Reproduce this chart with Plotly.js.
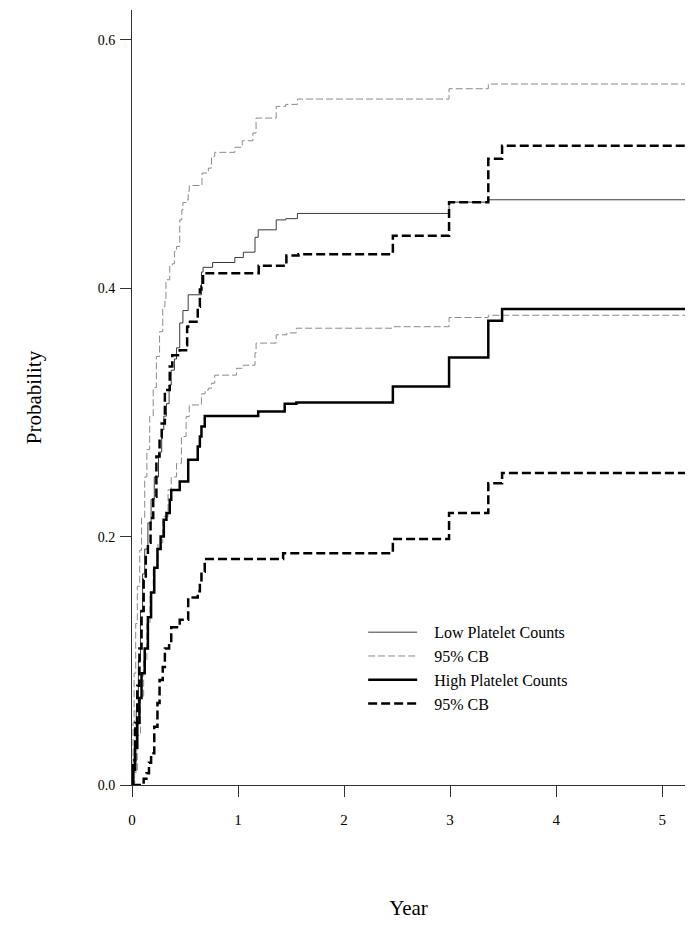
<!DOCTYPE html>
<html>
<head>
<meta charset="utf-8">
<script src="https://cdn.plot.ly/plotly-3.0.1.min.js"></script>
<style>
html,body{margin:0;padding:0;background:#fff;}
#chart{width:700px;height:932px;}
</style>
</head>
<body>
<div id="chart"></div>
<script>
// ---- Data ----
// Low platelet counts: estimate
var lowT = [0, 0.01, 0.02, 0.04, 0.06, 0.08, 0.10, 0.12, 0.15, 0.18, 0.21, 0.25, 0.28, 0.30, 0.325, 0.35, 0.37, 0.40, 0.42, 0.45, 0.48, 0.53, 0.655, 0.67, 0.76, 0.97, 1.05, 1.16, 1.19, 1.36, 1.45, 1.56, 2.99, 3.36, 5.215];
var lowP = [0, 0.01, 0.03, 0.06, 0.10, 0.14, 0.17, 0.19, 0.211, 0.23, 0.248, 0.268, 0.286, 0.297, 0.307, 0.322, 0.334, 0.343, 0.352, 0.372, 0.382, 0.3947, 0.413, 0.4168, 0.4207, 0.4247, 0.429, 0.441, 0.447, 0.455, 0.456, 0.4602, 0.4693, 0.4712, 0.4712];
// Low platelet counts: upper 95% CB
var lowUpT = [0, 0.01, 0.02, 0.035, 0.05, 0.073, 0.09, 0.12, 0.14, 0.167, 0.20, 0.23, 0.26, 0.29, 0.31, 0.32, 0.356, 0.38, 0.40, 0.42, 0.45, 0.47, 0.48, 0.51, 0.53, 0.54, 0.66, 0.72, 0.75, 0.78, 0.97, 1.04, 1.14, 1.17, 1.36, 1.45, 1.56, 2.99, 3.36, 5.215];
var lowUpP = [0, 0.05, 0.09, 0.13, 0.16, 0.189, 0.215, 0.248, 0.27, 0.297, 0.32, 0.345, 0.365, 0.385, 0.3907, 0.4068, 0.418, 0.4197, 0.4296, 0.4336, 0.455, 0.463, 0.469, 0.471, 0.478, 0.4827, 0.4927, 0.4967, 0.506, 0.5094, 0.5135, 0.5187, 0.525, 0.537, 0.5464, 0.548, 0.5523, 0.5606, 0.5644, 0.5644];
// Low platelet counts: lower 95% CB
var lowLoT = [0, 0.025, 0.05, 0.08, 0.11, 0.14, 0.17, 0.20, 0.245, 0.29, 0.34, 0.37, 0.42, 0.466, 0.51, 0.54, 0.655, 0.69, 0.72, 0.75, 0.78, 0.985, 1.05, 1.16, 1.17, 1.36, 1.46, 1.55, 2.46, 2.99, 3.36, 5.215];
var lowLoP = [0, 0.01, 0.04, 0.07, 0.10, 0.13, 0.155, 0.175, 0.195, 0.216, 0.2376, 0.248, 0.259, 0.2806, 0.2966, 0.306, 0.315, 0.318, 0.3195, 0.3235, 0.330, 0.3355, 0.338, 0.348, 0.3558, 0.3625, 0.364, 0.3678, 0.369, 0.3764, 0.3782, 0.3782];
// High platelet counts: estimate
var highT = [0, 0.01, 0.03, 0.05, 0.07, 0.09, 0.12, 0.15, 0.18, 0.21, 0.24, 0.27, 0.30, 0.325, 0.356, 0.37, 0.45, 0.53, 0.62, 0.64, 0.655, 0.686, 1.19, 1.44, 1.55, 2.46, 2.99, 3.36, 3.49, 5.215];
var highP = [0, 0.012, 0.03, 0.05, 0.07, 0.09, 0.11, 0.135, 0.155, 0.175, 0.19, 0.2, 0.2135, 0.219, 0.2296, 0.2376, 0.2443, 0.2618, 0.2725, 0.2806, 0.2886, 0.2972, 0.3007, 0.3069, 0.3079, 0.3208, 0.3442, 0.3737, 0.3832, 0.3832];
// High platelet counts: upper 95% CB
var highUpT = [0, 0.01, 0.03, 0.05, 0.07, 0.09, 0.11, 0.13, 0.15, 0.175, 0.20, 0.23, 0.26, 0.28, 0.31, 0.356, 0.38, 0.45, 0.51, 0.52, 0.53, 0.62, 0.64, 0.655, 0.67, 1.195, 1.456, 1.57, 2.46, 2.99, 3.36, 3.49, 5.215];
var highUpP = [0, 0.02, 0.05, 0.08, 0.11, 0.14, 0.165, 0.185, 0.195, 0.215, 0.232, 0.2645, 0.28, 0.291, 0.318, 0.337, 0.346, 0.350, 0.354, 0.369, 0.373, 0.385, 0.399, 0.4013, 0.412, 0.418, 0.4264, 0.4274, 0.4422, 0.4693, 0.5042, 0.5147, 0.5147];
// High platelet counts: lower 95% CB
var highLoT = [0, 0.10, 0.11, 0.136, 0.16, 0.18, 0.21, 0.24, 0.26, 0.29, 0.31, 0.35, 0.37, 0.45, 0.53, 0.62, 0.64, 0.655, 0.686, 1.425, 2.46, 2.99, 3.36, 3.49, 5.215];
var highLoP = [0, 0, 0.005, 0.0094, 0.018, 0.0255, 0.047, 0.066, 0.0846, 0.095, 0.110, 0.114, 0.127, 0.133, 0.151, 0.156, 0.1624, 0.1718, 0.182, 0.1866, 0.198, 0.219, 0.243, 0.2513, 0.2513];

var legendNames = ["Low Platelet Counts", "95% CB", "High Platelet Counts", "95% CB"];
var xTicks = [0, 1, 2, 3, 4, 5];
var yTicks = [0, 0.2, 0.4, 0.6];

var FONT = "Liberation Serif, Times New Roman, serif";
var PAD = "\u00a0\u00a0\u00a0";

var traces = [
  {x: lowT, y: lowP, name: PAD + legendNames[0], mode: "lines", line: {shape: "hv", color: "#3a3a3a", width: 1}},
  {x: lowUpT, y: lowUpP, name: PAD + legendNames[1], mode: "lines", legendgroup: "lcb", line: {shape: "hv", color: "#8a8a8a", width: 1, dash: "7px,3px"}},
  {x: lowLoT, y: lowLoP, name: PAD + legendNames[1], mode: "lines", legendgroup: "lcb", showlegend: false, line: {shape: "hv", color: "#8a8a8a", width: 1, dash: "7px,3px"}},
  {x: highT, y: highP, name: PAD + legendNames[2], mode: "lines", line: {shape: "hv", color: "#000000", width: 2.5}},
  {x: highUpT, y: highUpP, name: PAD + legendNames[3], mode: "lines", legendgroup: "hcb", line: {shape: "hv", color: "#000000", width: 2.5, dash: "9px,4px"}},
  {x: highLoT, y: highLoP, name: PAD + legendNames[3], mode: "lines", legendgroup: "hcb", showlegend: false, line: {shape: "hv", color: "#000000", width: 2.5, dash: "9px,4px"}}
];

var layout = {
  width: 700, height: 932,
  margin: {l: 132, r: 15, t: 10, b: 147},
  paper_bgcolor: "#ffffff", plot_bgcolor: "#ffffff",
  font: {family: FONT, color: "#000000"},
  showlegend: true,
  legend: {x: 0.418, y: 0.219, xanchor: "left", yanchor: "top", bgcolor: "rgba(0,0,0,0)",
           font: {family: FONT, size: 16, color: "#000"}, itemwidth: 49, tracegroupgap: 0},
  xaxis: {
    range: [0, 5.215], tickvals: xTicks, ticktext: xTicks.map(String),
    showgrid: false, zeroline: false, showline: true, linecolor: "#333", linewidth: 1,
    ticks: "outside", ticklen: 11, tickcolor: "#333", tickwidth: 1,
    tickfont: {family: FONT, size: 15, color: "#000"}, ticklabelstandoff: 10,
    title: {text: "Year", font: {family: FONT, size: 21, color: "#000"}, standoff: 73}
  },
  yaxis: {
    range: [0, 0.624], tickvals: yTicks, ticktext: yTicks.map(function(v){return v.toFixed(1);}),
    showgrid: false, zeroline: false, showline: true, linecolor: "#333", linewidth: 1,
    ticks: "outside", ticklen: 11, tickcolor: "#333", tickwidth: 1,
    tickfont: {family: FONT, size: 14, color: "#000"}, ticklabelstandoff: 2,
    title: {text: "Probability", font: {family: FONT, size: 21, color: "#000"}, standoff: 50}
  }
};

Plotly.newPlot("chart", traces, layout, {staticPlot: true, displayModeBar: false});
</script>
</body>
</html>
